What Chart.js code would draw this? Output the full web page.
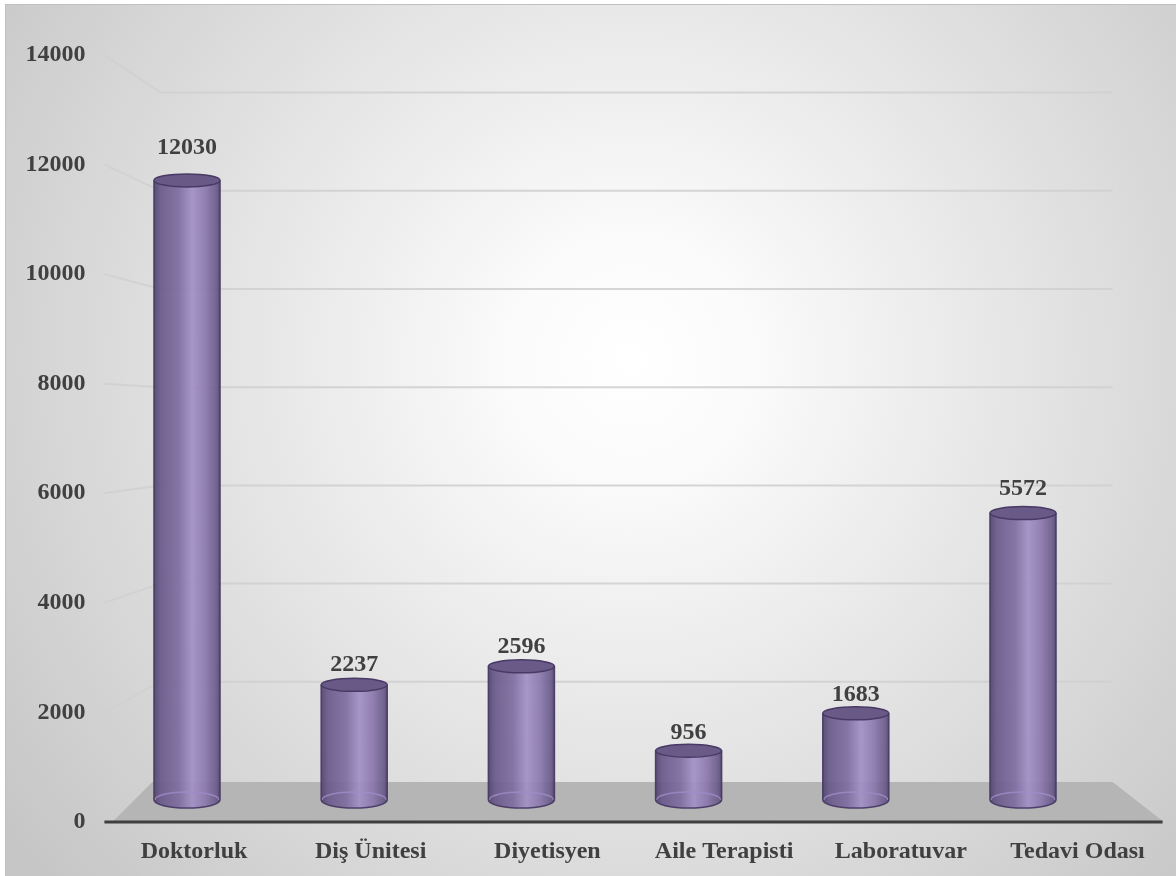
<!DOCTYPE html>
<html>
<head>
<meta charset="utf-8">
<script src="https://cdn.jsdelivr.net/npm/chart.js@4.4.0/dist/chart.umd.min.js"></script>
<style>
    body { margin: 0; background: #fff; }
    canvas { display: block; }
</style>
</head>
<body>
<canvas id="unitChart" width="1176" height="876"></canvas>
<script>
const categories = ['Doktorluk', 'Diş Ünitesi', 'Diyetisyen', 'Aile Terapisti', 'Laboratuvar', 'Tedavi Odası'];
const counts = [12030, 2237, 2596, 956, 1683, 5572];
const yTicks = [0, 2000, 4000, 6000, 8000, 10000, 12000, 14000];

const textColor = '#404040';
const labelFont = 'bold 24px "Liberation Serif", "Times New Roman", serif';

// background, back wall grid, floor, cylinders and value labels
const cylinderScene = {
    id: 'cylinderScene',
    beforeDraw(chart) {
        const ctx = chart.ctx;
        ctx.save();
        ctx.fillStyle = '#ffffff';
        ctx.fillRect(0, 0, chart.width, chart.height);
        const bg = ctx.createRadialGradient(630, 360, 0, 630, 360, 780);
        bg.addColorStop(0, '#ffffff');
        bg.addColorStop(0.15, '#fbfbfb');
        bg.addColorStop(1, '#c6c6c6');
        ctx.fillStyle = bg;
        ctx.fillRect(5, 4, chart.width - 5, chart.height - 4);
        ctx.strokeStyle = '#c0c0c0';
        ctx.lineWidth = 1;
        ctx.strokeRect(5.5, 4.5, chart.width - 5, chart.height - 4);
        ctx.restore();
    },
    beforeDatasetsDraw(chart) {
        const ctx = chart.ctx;
        const area = chart.chartArea;
        const yLabel = chart.scales.yLabel;
        const yGrid = chart.scales.yGrid;
        const wallLeft = area.left + 57;
        const wallRight = area.right + 6;
        ctx.save();

        // gridlines: slanted from the value axis to the back wall
        ctx.strokeStyle = 'rgba(208,208,208,0.9)';
        ctx.lineWidth = 2;
        yTicks.forEach(v => {
            if (v === 0) return;
            ctx.beginPath();
            ctx.moveTo(area.left + 1, yLabel.getPixelForValue(v));
            ctx.lineTo(wallLeft, yGrid.getPixelForValue(v));
            ctx.lineTo(wallRight, yGrid.getPixelForValue(v));
            ctx.stroke();
        });

        // floor
        const backY = yGrid.getPixelForValue(0) + 2;
        const frontY = yLabel.getPixelForValue(0) - 1;
        ctx.fillStyle = '#b5b5b5';
        ctx.beginPath();
        ctx.moveTo(area.left + 49, backY);
        ctx.lineTo(area.right + 6, backY);
        ctx.lineTo(area.right + 56, frontY);
        ctx.lineTo(area.left + 10, frontY);
        ctx.closePath();
        ctx.fill();

        // category axis line
        ctx.strokeStyle = '#3f3f3f';
        ctx.lineWidth = 3;
        ctx.beginPath();
        ctx.moveTo(area.left + 1, frontY + 1);
        ctx.lineTo(area.right + 56, frontY + 1);
        ctx.stroke();
        ctx.restore();
    },
    afterDatasetsDraw(chart) {
        const ctx = chart.ctx;
        const meta = chart.getDatasetMeta(0);
        ctx.save();
        meta.data.forEach((bar, i) => {
            const cx = bar.x;
            const rx = bar.width / 2;
            const top = bar.y;
            const base = bar.base;
            const ryTop = 6.5;
            const ryBase = 8;

            // body
            const grad = ctx.createLinearGradient(cx - rx, 0, cx + rx, 0);
            grad.addColorStop(0, 'rgba(80,66,108,0.92)');
            grad.addColorStop(0.1, 'rgba(104,89,138,0.92)');
            grad.addColorStop(0.38, 'rgba(126,108,160,0.92)');
            grad.addColorStop(0.58, 'rgba(162,143,198,0.92)');
            grad.addColorStop(0.78, 'rgba(138,119,172,0.92)');
            grad.addColorStop(0.95, 'rgba(104,89,136,0.92)');
            grad.addColorStop(1, 'rgba(78,64,104,0.92)');
            ctx.fillStyle = grad;
            ctx.beginPath();
            ctx.moveTo(cx - rx, top);
            ctx.lineTo(cx - rx, base);
            ctx.ellipse(cx, base, rx, ryBase, 0, Math.PI, 0, true);
            ctx.lineTo(cx + rx, top);
            ctx.ellipse(cx, top, rx, ryTop, 0, 0, Math.PI, false);
            ctx.closePath();
            ctx.fill();

            // back rim of the base, seen through the body
            ctx.strokeStyle = 'rgba(160,140,200,0.8)';
            ctx.lineWidth = 1.5;
            ctx.beginPath();
            ctx.ellipse(cx, base, rx - 1, ryBase, 0, Math.PI, 0, false);
            ctx.stroke();

            // outline
            ctx.strokeStyle = 'rgba(72,58,100,0.95)';
            ctx.lineWidth = 1.5;
            ctx.beginPath();
            ctx.moveTo(cx - rx, top);
            ctx.lineTo(cx - rx, base);
            ctx.ellipse(cx, base, rx, ryBase, 0, Math.PI, 0, true);
            ctx.lineTo(cx + rx, top);
            ctx.stroke();

            // top cap
            ctx.fillStyle = 'rgba(100,85,132,0.97)';
            ctx.beginPath();
            ctx.ellipse(cx, top, rx, ryTop, 0, 0, Math.PI * 2);
            ctx.fill();
            ctx.strokeStyle = 'rgba(72,58,100,1)';
            ctx.stroke();

            // value label, lifted a little more on taller bars
            const lift = 16.4 + 0.027 * (base - top);
            ctx.fillStyle = textColor;
            ctx.font = labelFont;
            ctx.textAlign = 'center';
            ctx.textBaseline = 'middle';
            ctx.fillText(String(counts[i]), cx, top - lift);
        });
        ctx.restore();
    }
};

const axisFont = { family: '"Liberation Serif", "Times New Roman", serif', size: 24, weight: 'bold' };

const ctx = document.getElementById('unitChart').getContext('2d');
new Chart(ctx, {
    type: 'bar',
    data: {
        labels: categories,
        datasets: [{
            data: counts,
            backgroundColor: 'rgba(0,0,0,0)',
            borderWidth: 0,
            categoryPercentage: 1,
            barPercentage: 0.395,
            xAxisID: 'x',
            yAxisID: 'y'
        }]
    },
    options: {
        responsive: false,
        animation: false,
        layout: { padding: { top: 55, right: 69.4, left: 0, bottom: 0 } },
        plugins: {
            legend: { display: false },
            tooltip: { enabled: false }
        },
        scales: {
            // bars sit further back than the front axes
            x: { type: 'category', display: false, offset: true },
            y: { type: 'linear', display: false, min: -427, max: 14466 },
            yGrid: { type: 'linear', display: false, min: -855, max: 14766 },
            xLabel: {
                type: 'linear',
                position: 'bottom',
                offset: false,
                min: -0.5127,
                max: 5.1647,
                grid: { display: false, drawTicks: false },
                border: { display: false },
                afterFit(scale) { scale.height = 54; },
                ticks: {
                    stepSize: 1,
                    includeBounds: false,
                    autoSkip: false,
                    maxRotation: 0,
                    padding: 15,
                    color: textColor,
                    font: axisFont,
                    callback: v => categories[v] ?? ''
                }
            },
            yLabel: {
                type: 'linear',
                position: 'left',
                min: 0,
                max: 14000,
                grid: { display: false, drawTicks: false },
                border: { display: false },
                afterFit(scale) { scale.width = 103.4; },
                ticks: {
                    stepSize: 2000,
                    padding: 18,
                    color: textColor,
                    font: axisFont,
                    callback: v => yTicks.includes(v) ? String(v) : ''
                }
            }
        }
    },
    plugins: [cylinderScene]
});
</script>
</body>
</html>
